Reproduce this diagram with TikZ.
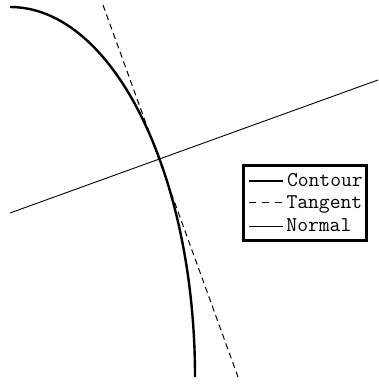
\documentclass[tikz,border=0pt]{standalone}
\tikzset{
  contour/.style={line width=2.4pt},
  tangent/.style={line width=1pt, dash pattern=on 6pt off 4pt},
  normal/.style={line width=0.9pt},
  legendtext/.style={anchor=base west, inner sep=0pt, font=\ttfamily\fontsize{21}{21}\selectfont}
}
\begin{document}
\begin{tikzpicture}[x=1pt, y=1pt]
  \useasboundingbox (0,0) rectangle (379,385);
  \coordinate (top) at (10,378);
  \coordinate (tA) at (103,380);
  \coordinate (tB) at (238,8);
  \coordinate (nA) at (10,172);
  \coordinate (nB) at (378,305);

  \draw[contour] (top) arc[start angle=90, end angle=0, x radius=185, y radius=370];
  \draw[tangent] (tA) -- (tB);
  \draw[normal] (nA) -- (nB);

  \draw[fill=white, line width=3pt] (243.5,144.5) rectangle (366,219) coordinate (box);
  \coordinate (l1) at (249,204);
  \coordinate (l2) at (249,182);
  \coordinate (l3) at (249,159);
  \draw[contour, line width=2pt] (l1) -- ++(34,0) node[legendtext, yshift=-6pt, xshift=3pt] (c) {Contour};
  \draw[tangent, dash pattern=on 7pt off 6pt] (l2) -- ++(33,0) node[legendtext, yshift=-6pt, xshift=4pt] (t) {Tangent};
  \draw[normal] (l3) -- ++(34,0) node[legendtext, yshift=-6pt, xshift=3pt] (n) {Normal};
\end{tikzpicture}
\end{document}
